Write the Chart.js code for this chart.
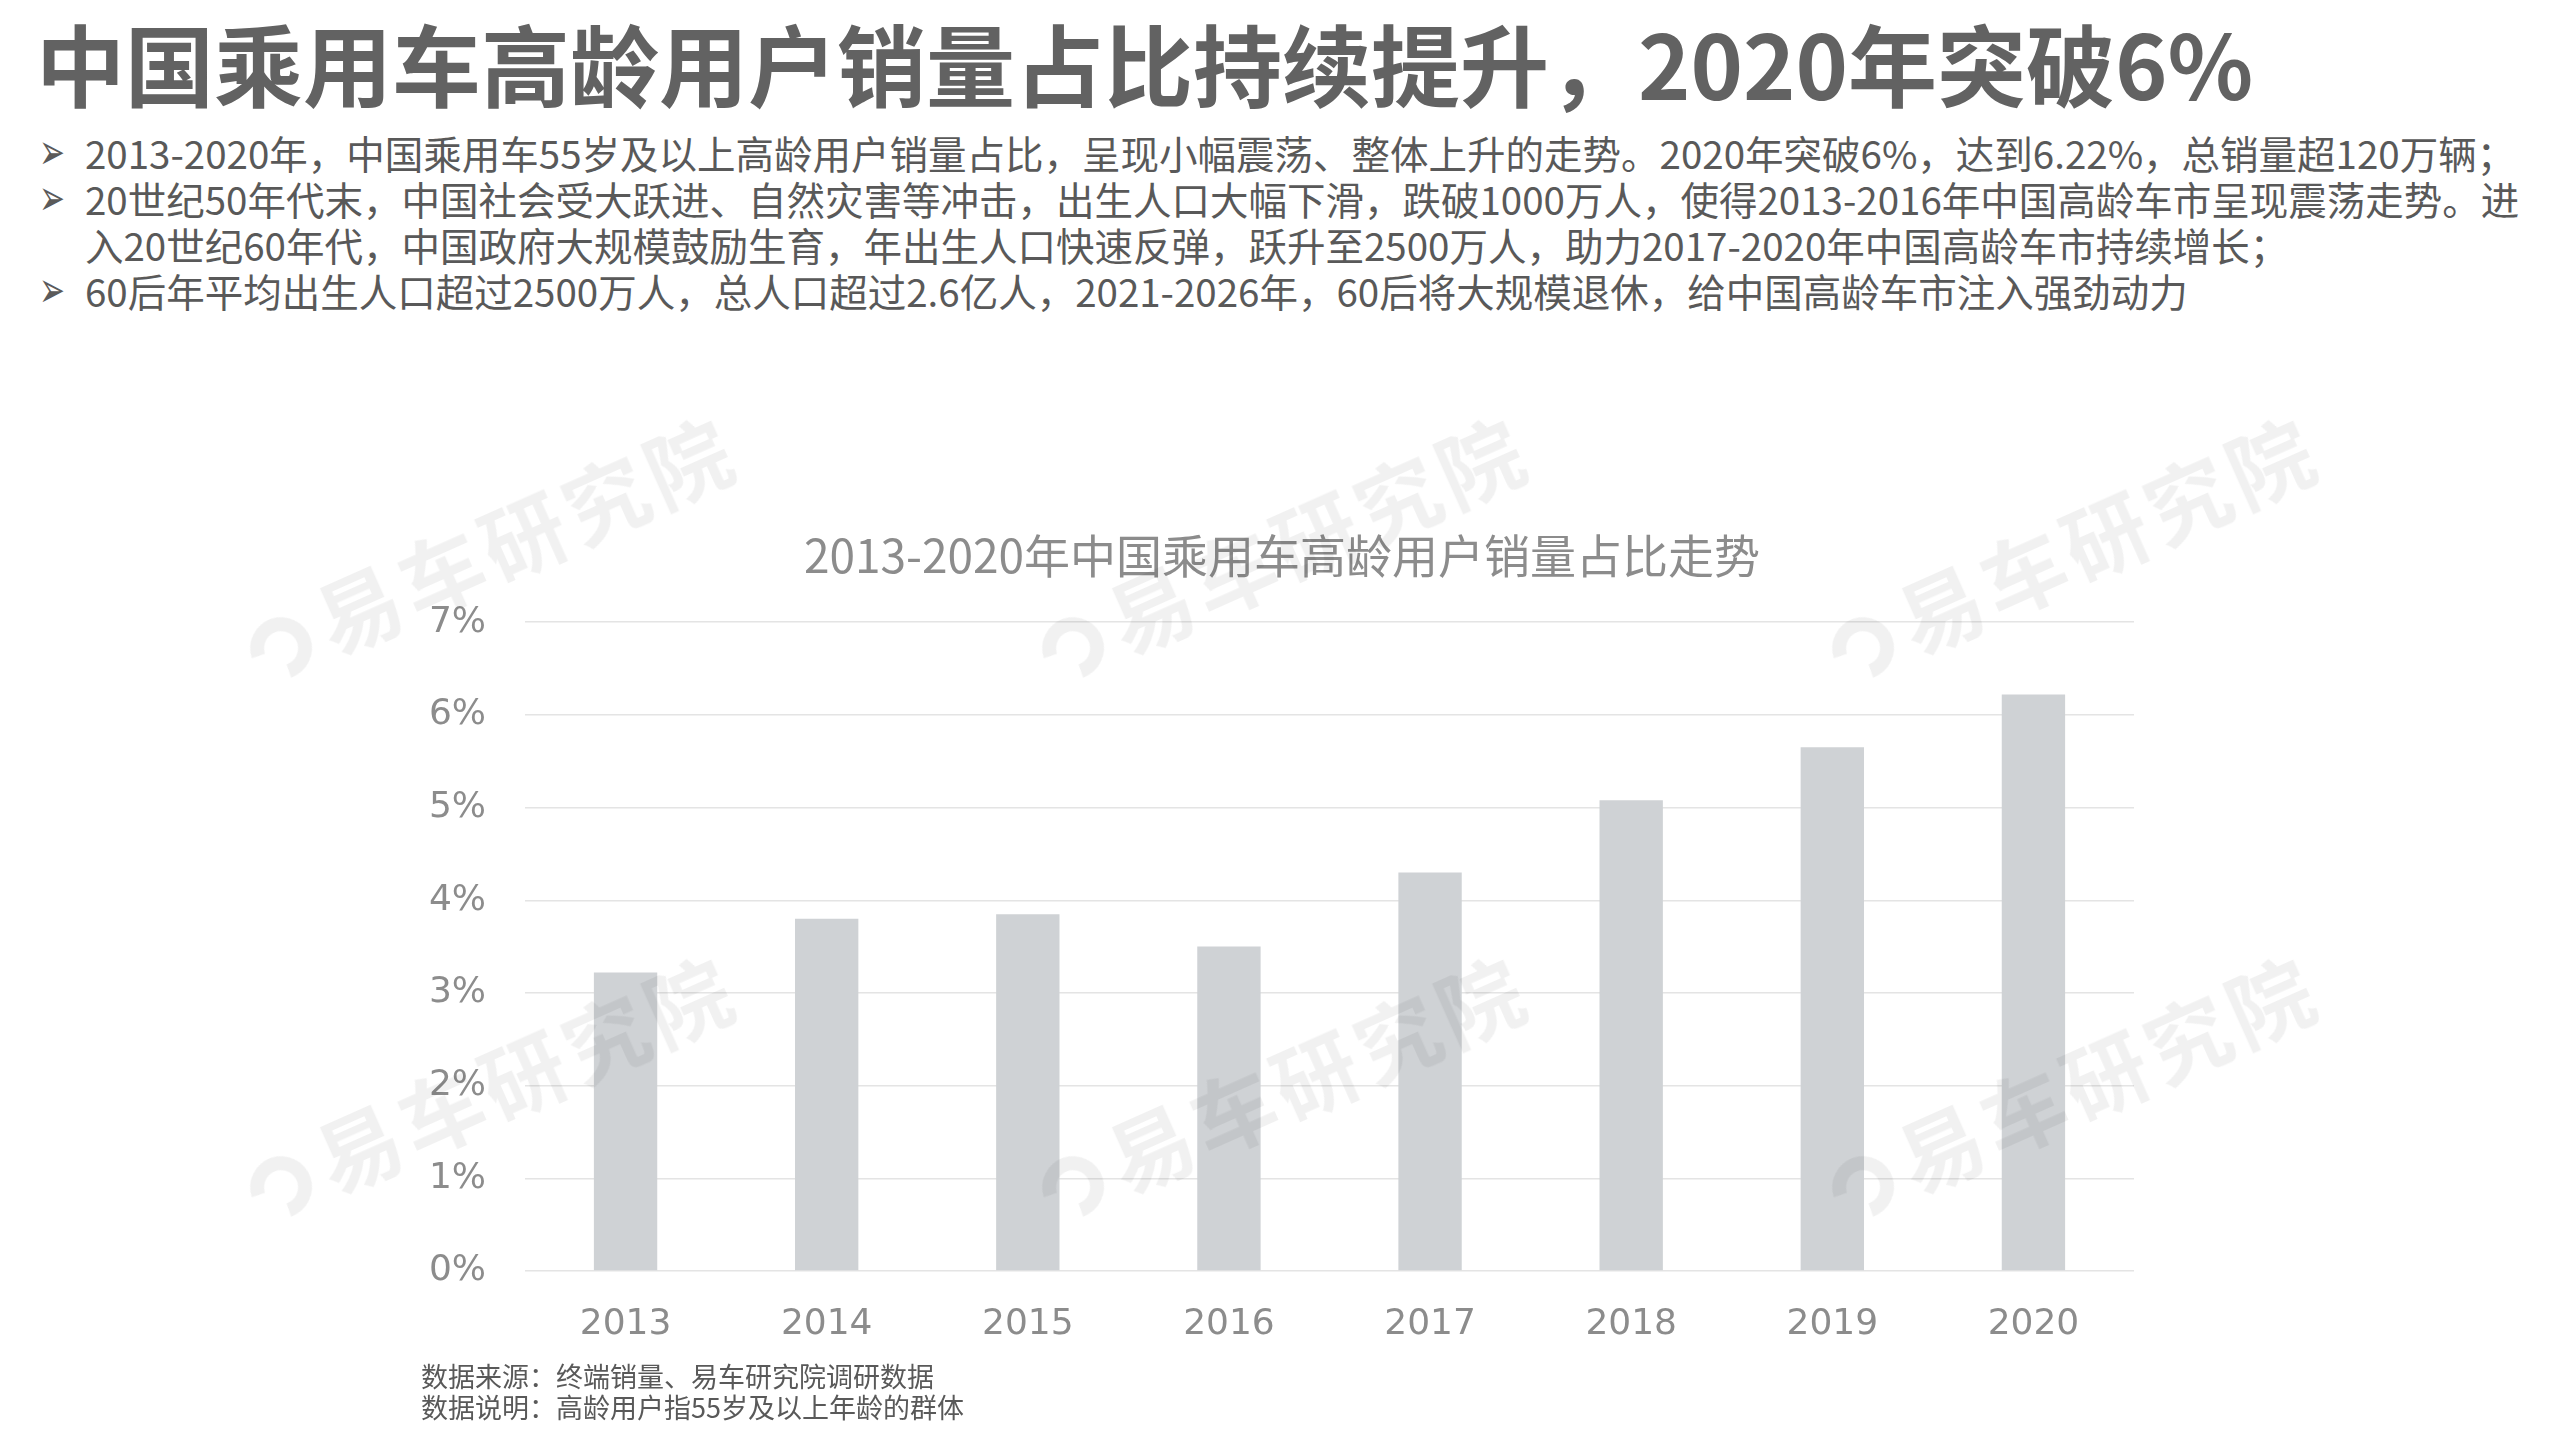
<!DOCTYPE html>
<html lang="zh-CN">
<head>
<meta charset="utf-8">
<title>2013-2020年中国乘用车高龄用户销量占比走势</title>
<script src="https://cdn.jsdelivr.net/npm/chart.js@4.4.1/dist/chart.umd.min.js"></script>
<style>
  html, body { margin: 0; padding: 0; background: #fff; }
  body { width: 2559px; height: 1439px; position: relative; overflow: hidden;
         font-family: "Noto Sans CJK SC", "Noto Sans", sans-serif; }
  #headline { position: absolute; left: 36px; top: 10px; font-size: 89px; font-weight: 700;
              color: #626262; white-space: nowrap; line-height: 104px; }
  #points { position: absolute; left: 46px; top: 129px; font-size: 38.5px; color: #595959;
            line-height: 46px; white-space: nowrap; }
  #points .pt { position: relative; padding-left: 39px; }
  #points .pt::before { content: "\27A2"; position: absolute; left: -7px; top: 0;
                        font-family: "DejaVu Sans"; font-size: 50px; line-height: 46px; color: #5a5a5a;
                        transform: scaleX(0.62); transform-origin: left center; }
  #chartBox { position: absolute; left: 380px; top: 500px; width: 1804px; height: 861px; }
  #notes { position: absolute; left: 421px; top: 1360px; font-size: 27px; color: #595959;
           line-height: 31px; white-space: nowrap; }
  .wm { position: absolute; transform: translate(-50%, -50%) rotate(-24deg);
        font-size: 84px; font-weight: 700; letter-spacing: 6px; white-space: nowrap;
        color: rgba(0, 0, 0, 0.055); pointer-events: none; z-index: 5; }
  .wm .logo { display: inline-block; width: 34px; height: 34px; border: 14px solid rgba(0, 0, 0, 0.055);
              border-left-color: transparent; border-radius: 50%; margin-right: 14px;
              vertical-align: -2px; transform: rotate(-40deg); }
</style>
</head>
<body>
<div id="headline">中国乘用车高龄用户销量占比持续提升，2020年突破6%</div>
<div id="points">
  <div class="pt">2013-2020年，中国乘用车55岁及以上高龄用户销量占比，呈现小幅震荡、整体上升的走势。2020年突破6%，达到6.22%，总销量超120万辆；</div>
  <div class="pt">20世纪50年代末，中国社会受大跃进、自然灾害等冲击，出生人口大幅下滑，跌破1000万人，使得2013-2016年中国高龄车市呈现震荡走势。进<br>入20世纪60年代，中国政府大规模鼓励生育，年出生人口快速反弹，跃升至2500万人，助力2017-2020年中国高龄车市持续增长；</div>
  <div class="pt">60后年平均出生人口超过2500万人，总人口超过2.6亿人，2021-2026年，60后将大规模退休，给中国高龄车市注入强劲动力</div>
</div>
<div id="chartBox"><canvas id="chart"></canvas></div>
<div id="notes">数据来源：终端销量、易车研究院调研数据<br>数据说明：高龄用户指55岁及以上年龄的群体</div>

<div class="wm" style="left:490px;top:547px"><span class="logo"></span>易车研究院</div>
<div class="wm" style="left:1282px;top:547px"><span class="logo"></span>易车研究院</div>
<div class="wm" style="left:2072px;top:547px"><span class="logo"></span>易车研究院</div>
<div class="wm" style="left:490px;top:1086px"><span class="logo"></span>易车研究院</div>
<div class="wm" style="left:1282px;top:1086px"><span class="logo"></span>易车研究院</div>
<div class="wm" style="left:2072px;top:1086px"><span class="logo"></span>易车研究院</div>

<script>
// data
const years = ["2013", "2014", "2015", "2016", "2017", "2018", "2019", "2020"];
const elderShare = [3.22, 3.80, 3.85, 3.50, 4.30, 5.08, 5.65, 6.22]; // % of passenger car sales, age 55+
const yMax = 7;
const yStep = 1;

const GREY_TEXT = "#8c8c8c";
const BAR = "#cfd2d5";

Chart.defaults.font.family = '"DejaVu Sans", sans-serif';
Chart.defaults.color = GREY_TEXT;

new Chart(document.getElementById("chart"), {
  type: "bar",
  data: {
    labels: years,
    datasets: [{
      data: elderShare,
      backgroundColor: BAR,
      borderWidth: 0,
      categoryPercentage: 0.63,
      barPercentage: 0.5,
    }],
  },
  options: {
    responsive: true,
    maintainAspectRatio: false,
    animation: false,
    layout: { padding: 0 },
    plugins: {
      legend: { display: false },
      tooltip: { enabled: false },
      title: {
        display: true,
        text: "2013-2020年中国乘用车高龄用户销量占比走势",
        color: GREY_TEXT,
        font: { family: '"Noto Sans CJK SC", sans-serif', size: 46, weight: "normal" },
        padding: { top: 28, bottom: 39 },
      },
    },
    scales: {
      x: {
        grid: { display: false },
        border: { display: false },
        ticks: { font: { size: 36 }, color: GREY_TEXT, padding: 24 },
        afterFit(s) { s.height = 90; },
      },
      y: {
        min: 0,
        max: yMax,
        ticks: {
          stepSize: yStep,
          font: { size: 36 },
          color: GREY_TEXT,
          padding: 39,
          callback: (v) => v + "%",
        },
        grid: { color: "#e4e4e4", lineWidth: 1.5, drawTicks: false },
        border: { display: false },
        afterFit(s) { s.width = 145; },
      },
      // keeps the right margin so the title centres on the whole canvas
      yPad: {
        position: "right",
        grid: { display: false },
        ticks: { display: false },
        border: { display: false },
        afterFit(s) { s.width = 50; },
      },
    },
  },
});
</script>
</body>
</html>
